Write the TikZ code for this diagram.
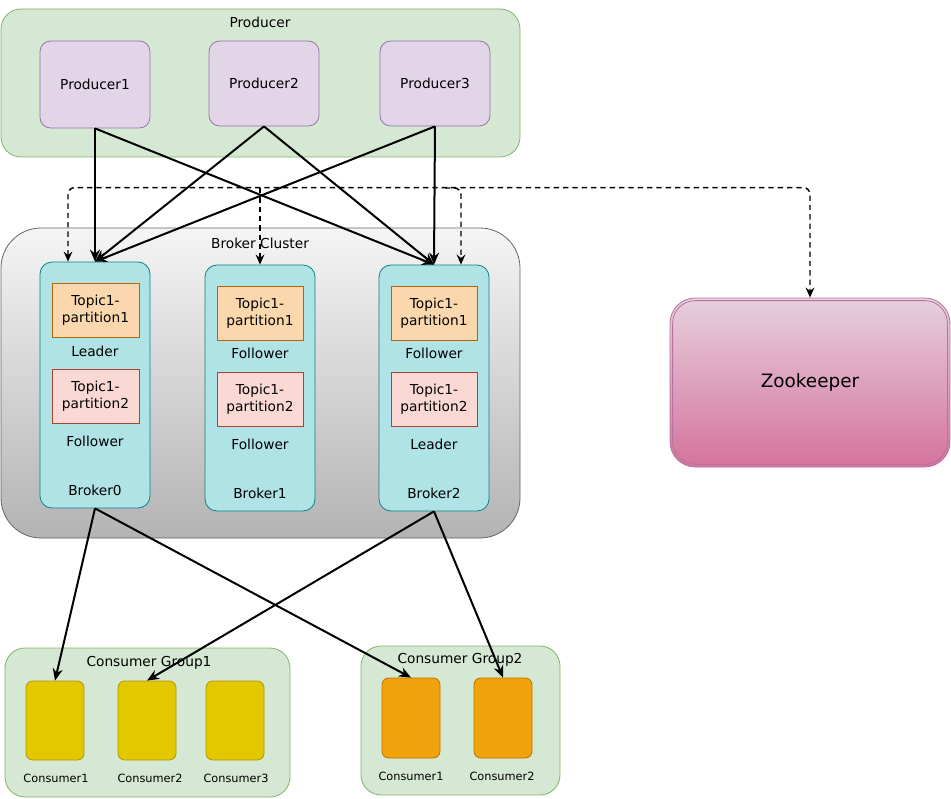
\documentclass[tikz,border=0pt]{standalone}
\usepackage{fontspec}
\setmainfont{DejaVu Sans}
\usetikzlibrary{arrows.meta,calc}
\definecolor{grnF}{HTML}{D5E8D4}\definecolor{grnD}{HTML}{82B366}
\definecolor{purF}{HTML}{E1D5E7}\definecolor{purD}{HTML}{9673A6}
\definecolor{bcT}{HTML}{F5F5F5}\definecolor{bcB}{HTML}{B3B3B3}\definecolor{bcD}{HTML}{666666}
\definecolor{brF}{HTML}{B0E3E6}\definecolor{brD}{HTML}{0E8088}
\definecolor{p1F}{HTML}{FAD7AC}\definecolor{p1D}{HTML}{B46504}
\definecolor{p2F}{HTML}{FAD9D5}\definecolor{p2D}{HTML}{AE4132}
\definecolor{zkT}{HTML}{E6D0DE}\definecolor{zkB}{HTML}{D5739D}\definecolor{zkD}{HTML}{B5739D}
\definecolor{yeF}{HTML}{E3C800}\definecolor{yeD}{HTML}{B09500}
\definecolor{orF}{HTML}{F0A30A}\definecolor{orD}{HTML}{BD7000}
\begin{document}
\begin{tikzpicture}[x=0.75pt,y=-0.75pt,
  sz/.style 2 args={minimum width=#1*0.75pt,minimum height=#2*0.75pt,inner sep=0pt},
  grp/.style={draw=grnD,fill=grnF,rounded corners=15pt,line width=0.6pt},
  prod/.style={draw=purD,fill=purF,rounded corners=8pt,line width=0.6pt,font=\fontsize{10.3}{12}\selectfont},
  broker/.style={draw=brD,fill=brF,rounded corners=9pt,line width=0.6pt},
  partA/.style={draw=p1D,fill=p1F,line width=0.6pt,align=center,font=\fontsize{10.3}{12.5}\selectfont},
  partB/.style={draw=p2D,fill=p2F,line width=0.6pt,align=center,font=\fontsize{10.3}{12.5}\selectfont},
  lbl/.style={font=\fontsize{10.3}{12}\selectfont,inner sep=0pt},
  slbl/.style={font=\fontsize{8.5}{10}\selectfont,inner sep=0pt},
  consY/.style={draw=yeD,fill=yeF,rounded corners=5pt,line width=0.6pt},
  consO/.style={draw=orD,fill=orF,rounded corners=5pt,line width=0.6pt},
  tipS/.tip={Stealth[length=9pt,width=7.5pt,inset=3pt]},
  tipD/.tip={Stealth[length=7.5pt,width=6.5pt,inset=2.5pt]},
  conn/.style={line width=1.5pt,-tipS},
  dsh/.style={line width=1.1pt,dash pattern=on 4pt off 3pt,-tipD}
]
\useasboundingbox (0,0) rectangle (951,799);
% containers
\node[grp,sz={519}{148}] (prodgrp) at (260.5,83) {};
\node[lbl] (prodtitle) at (260,22) {Producer};
\node[draw=bcD,top color=bcT,bottom color=bcB,rounded corners=30pt,line width=0.6pt,sz={519}{310}] (cluster) at (260.5,383) {};
\node[lbl] (clustertitle) at (260,243) {Broker Cluster};
\node[grp,sz={285}{149}] (cg1) at (147.5,722.5) {};
\node[lbl] (cg1title) at (149,663) {Consumer Group1};
\node[grp,sz={199}{149}] (cg2) at (460.5,720.5) {};
\node[lbl] (cg2title) at (460,660) {Consumer Group2};
% producers
\node[prod,sz={110}{87}] (p1) at (95,84.5) {Producer1};
\node[prod,sz={110}{85}] (p2) at (264,83.5) {Producer2};
\node[prod,sz={110}{85}] (p3) at (435,83.5) {Producer3};
% brokers
\node[broker,sz={110}{246}] (b0) at (95,385) {};
\node[broker,sz={110}{246}] (b1) at (260,388) {};
\node[broker,sz={110}{246}] (b2) at (434,388) {};
\node[partA,sz={87}{54}] (b0t1) at (95.5,310) {Topic1-\\partition1};
\node[lbl] (b0l1) at (95,351) {Leader};
\node[partB,sz={87}{54}] (b0t2) at (95.5,396) {Topic1-\\partition2};
\node[lbl] (b0l2) at (95,441) {Follower};
\node[lbl] (b0n) at (95,490) {Broker0};
\node[partA,sz={86}{54}] (b1t1) at (260,313) {Topic1-\\partition1};
\node[lbl] (b1l1) at (260,353) {Follower};
\node[partB,sz={86}{54}] (b1t2) at (260,399) {Topic1-\\partition2};
\node[lbl] (b1l2) at (260,444) {Follower};
\node[lbl] (b1n) at (260,493) {Broker1};
\node[partA,sz={86}{54}] (b2t1) at (434,313) {Topic1-\\partition1};
\node[lbl] (b2l1) at (434,353) {Follower};
\node[partB,sz={86}{54}] (b2t2) at (434,399) {Topic1-\\partition2};
\node[lbl] (b2l2) at (434,444) {Leader};
\node[lbl] (b2n) at (434,493) {Broker2};
% zookeeper
\node[draw=zkD,top color=zkT,bottom color=zkB,rounded corners=19pt,line width=0.6pt,sz={280}{169},font=\fontsize{13.8}{16}\selectfont] (zk) at (810,382.5) {Zookeeper};
\draw[zkD,line width=0.6pt,rounded corners=17pt] ($(zk.north west)+(3,3)$) rectangle ($(zk.south east)+(-3,-3)$);
% consumers
\node[consY,sz={58}{79}] (c11) at (55,720.5) {};
\node[consY,sz={58}{79}] (c12) at (147,720.5) {};
\node[consY,sz={58}{79}] (c13) at (235,720.5) {};
\node[slbl] (c11l) at (56,778) {Consumer1};
\node[slbl] (c12l) at (150,778) {Consumer2};
\node[slbl] (c13l) at (236,778) {Consumer3};
\node[consO,sz={58}{80}] (c21) at (411,718) {};
\node[consO,sz={58}{80}] (c22) at (503,718) {};
\node[slbl] (c21l) at (411,776) {Consumer1};
\node[slbl] (c22l) at (502,776) {Consumer2};
% producer -> broker
\draw[conn] (p1.south) -- (b0.north);
\draw[conn] (p1.south) -- (b2.north);
\draw[conn] (p2.south) -- (b0.north);
\draw[conn] (p2.south) -- (b2.north);
\draw[conn] (p3.south) -- (b0.north);
\draw[conn] (p3.south) -- (b2.north);
% broker -> consumers
\draw[conn] (b0.south) -- (c11.north);
\draw[conn] (b0.south) -- (c21.north);
\draw[conn] (b2.south) -- (c12.north);
\draw[conn] (b2.south) -- (c22.north);
% zookeeper dashed
\coordinate (bus1) at (260,188);
\coordinate (bus2) at (445,188);
\draw[dsh,tipD-tipD,rounded corners=5pt] ($(b0.north)+(-27,0)$) -- ++(0,-74) -| (zk.north);
\draw[dsh] (bus1) -- (b1.north);
\draw[dsh,rounded corners=5pt] (bus2) -| ($(b2.north)+(27,0)$);
\end{tikzpicture}
\end{document}
